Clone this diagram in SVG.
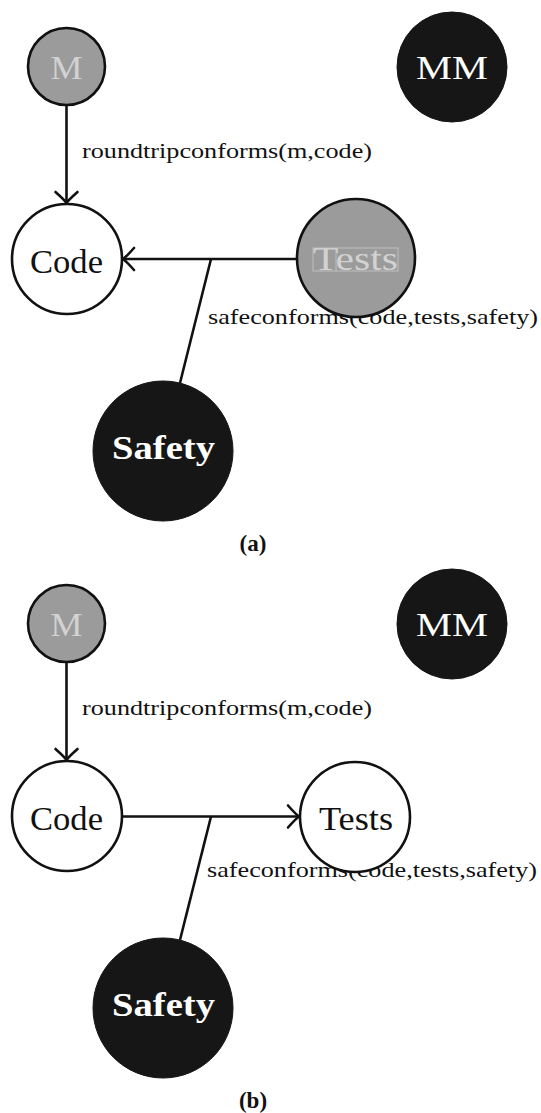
<svg xmlns="http://www.w3.org/2000/svg" width="541" height="1113" viewBox="0 0 541 1113">
<style>
.bg{fill:#ffffff}
.gray{fill:#9b9b9b;stroke:#111;stroke-width:2.6}
.white{fill:#ffffff;stroke:#111;stroke-width:2.6}
.black{fill:#161616;stroke:#161616;stroke-width:1}
.t{font-family:"Liberation Serif","Times New Roman",serif;text-anchor:middle}
.big{font-size:34px}
.lt{fill:#d2d2d2}
.wt{fill:#ffffff}
.dk{fill:#111}
.bold{font-weight:bold}
.lbl{font-family:"Liberation Serif","Times New Roman",serif;font-size:21px;fill:#111}
.edge{stroke:#111;stroke-width:2.6;fill:none}
.cap{font-family:"Liberation Serif","Times New Roman",serif;font-size:23px;font-weight:bold;fill:#111;text-anchor:middle}
</style>
<defs>
<marker id="arr" markerUnits="userSpaceOnUse" viewBox="-14 -14 16 28" refX="0" refY="0" markerWidth="16" markerHeight="28" orient="auto" overflow="visible">
<path d="M -11,-11 Q -3,-2 0,0 Q -3,2 -11,11" fill="none" stroke="#111" stroke-width="2.6" stroke-linecap="round"/>
</marker>
</defs>
<rect class="bg" x="0" y="0" width="541" height="1113"/>

<!-- Panel (a) -->
<g id="a-edges">
<line class="edge" x1="66.5" y1="105" x2="66.5" y2="203" marker-end="url(#arr)"/>
<line class="edge" x1="296" y1="259" x2="123" y2="259" marker-end="url(#arr)"/>
<line class="edge" x1="211" y1="259" x2="180" y2="383"/>
<text class="lbl" x="82" y="158" textLength="290" lengthAdjust="spacingAndGlyphs">roundtripconforms(m,code)</text>
<text class="lbl" x="208" y="324" textLength="330" lengthAdjust="spacingAndGlyphs">safeconforms(code,tests,safety)</text>
</g>
<g id="a-M">
<circle class="gray" cx="66.5" cy="66.5" r="38.5"/>
<text class="t big lt" x="66.5" y="79" textLength="32" lengthAdjust="spacingAndGlyphs">M</text>
</g>
<g id="a-MM">
<circle class="black" cx="452" cy="67" r="55"/>
<text class="t big wt" x="452" y="79" textLength="72" lengthAdjust="spacingAndGlyphs">MM</text>
</g>
<g id="a-Code">
<circle class="white" cx="67" cy="259" r="55"/>
<text class="t big dk" x="66.5" y="273" textLength="73" lengthAdjust="spacingAndGlyphs">Code</text>
</g>
<g id="a-Tests">
<circle class="gray" cx="356" cy="258" r="59"/>
<text class="t big lt" x="355.5" y="270" textLength="85" lengthAdjust="spacingAndGlyphs">Tests</text>
<rect x="313" y="248" width="85" height="23" fill="none" stroke="#c8c8c8" stroke-width="0.8"/>
<line x1="336" y1="248" x2="336" y2="271" stroke="#c8c8c8" stroke-width="0.8"/>
</g>
<g id="a-Safety">
<circle class="black" cx="163" cy="451" r="70"/>
<text class="t big wt bold" x="163.5" y="459" textLength="103" lengthAdjust="spacingAndGlyphs">Safety</text>
</g>
<text class="cap" x="253" y="551">(a)</text>

<!-- Panel (b) -->
<g id="b-edges">
<line class="edge" x1="66.5" y1="662" x2="66.5" y2="760" marker-end="url(#arr)"/>
<line class="edge" x1="122" y1="816.5" x2="299" y2="816.5" marker-end="url(#arr)"/>
<line class="edge" x1="211" y1="816.5" x2="180" y2="940"/>
<text class="lbl" x="82" y="715" textLength="290" lengthAdjust="spacingAndGlyphs">roundtripconforms(m,code)</text>
<text class="lbl" x="207" y="877" textLength="330" lengthAdjust="spacingAndGlyphs">safeconforms(code,tests,safety)</text>
</g>
<g id="b-M">
<circle class="gray" cx="66.5" cy="623.5" r="38.5"/>
<text class="t big lt" x="66.5" y="636" textLength="32" lengthAdjust="spacingAndGlyphs">M</text>
</g>
<g id="b-MM">
<circle class="black" cx="452" cy="624" r="55"/>
<text class="t big wt" x="452" y="636" textLength="72" lengthAdjust="spacingAndGlyphs">MM</text>
</g>
<g id="b-Code">
<circle class="white" cx="67" cy="816" r="55"/>
<text class="t big dk" x="66.5" y="830" textLength="73" lengthAdjust="spacingAndGlyphs">Code</text>
</g>
<g id="b-Tests">
<circle class="white" cx="355" cy="817" r="55"/>
<text class="t big dk" x="356" y="830" textLength="74" lengthAdjust="spacingAndGlyphs">Tests</text>
</g>
<g id="b-Safety">
<circle class="black" cx="163" cy="1008" r="70"/>
<text class="t big wt bold" x="163.5" y="1016" textLength="103" lengthAdjust="spacingAndGlyphs">Safety</text>
</g>
<text class="cap" x="253" y="1108">(b)</text>
</svg>
